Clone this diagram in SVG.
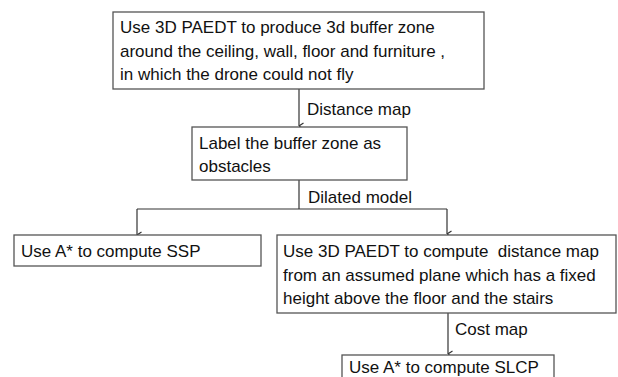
<svg xmlns="http://www.w3.org/2000/svg" width="618" height="377" viewBox="0 0 618 377">
<style>
.box{fill:#fff;stroke:#555;stroke-width:1.3}
.t{font-family:"Liberation Sans",Arial,sans-serif;font-size:17px;fill:#111}
.c{fill:none;stroke:#333;stroke-width:1.2}
</style>
<defs>
<marker id="ah" viewBox="0 0 8 8" refX="4" refY="7.5" markerWidth="8" markerHeight="8" markerUnits="userSpaceOnUse" orient="auto-start-reverse">
<path d="M1,3 L4,7.5 L7,3" fill="none" stroke="#333" stroke-width="1.1"/>
</marker>
</defs>
<rect width="618" height="377" fill="#fff"/>
<g id="connectors">
<path class="c" d="M299,89 V126" marker-end="url(#ah)"/>
<text class="t" x="307" y="115">Distance map</text>
<path class="c" d="M299,180 V209"/>
<path class="c" d="M137,209 H447"/>
<path class="c" d="M137,209 V235" marker-end="url(#ah)"/>
<path class="c" d="M447,209 V234" marker-end="url(#ah)"/>
<text class="t" x="308" y="203">Dilated model</text>
<path class="c" d="M448,313 V354" marker-end="url(#ah)"/>
<text class="t" x="455" y="335">Cost map</text>
</g>
<g id="n1">
<rect class="box" x="113" y="12" width="371" height="77"/>
<text class="t" x="120" y="33">Use 3D PAEDT to produce 3d buffer zone</text>
<text class="t" x="120" y="56.5">around the ceiling, wall, floor and furniture ,</text>
<text class="t" x="120" y="80">in which the drone could not fly</text>
</g>
<g id="n2">
<rect class="box" x="192" y="127" width="215" height="53"/>
<text class="t" x="199" y="149">Label the buffer zone as</text>
<text class="t" x="199" y="172">obstacles</text>
</g>
<g id="n3">
<rect class="box" x="14" y="235" width="247" height="31"/>
<text class="t" x="21" y="257">Use A* to compute SSP</text>
</g>
<g id="n4">
<rect class="box" x="277" y="235" width="339" height="78"/>
<text class="t" x="283" y="257" xml:space="preserve" style="white-space:pre">Use 3D PAEDT to compute  distance map</text>
<text class="t" x="283" y="281">from an assumed plane which has a fixed</text>
<text class="t" x="283" y="304">height above the floor and the stairs</text>
</g>
<g id="n5">
<rect class="box" x="342" y="355" width="212" height="40"/>
<text class="t" x="349" y="372.5">Use A* to compute SLCP</text>
</g>
</svg>
